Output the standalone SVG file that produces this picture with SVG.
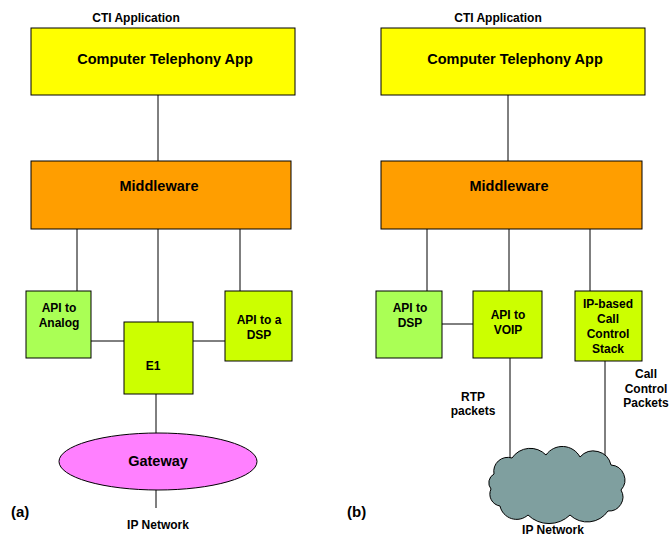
<svg xmlns="http://www.w3.org/2000/svg" width="672" height="537" viewBox="0 0 672 537">
  <style>
    text { font-family: "Liberation Sans", Arial, sans-serif; font-weight: bold; fill: #000; text-anchor: middle; }
    .big { font-size: 14.5px; }
    .sm { font-size: 12px; }
    .tag { font-size: 15px; text-anchor: start; }
    .box { stroke: #000; stroke-width: 1; }
    .app { fill: #ffff00; }
    .mid { fill: #ff9e00; }
    .grn { fill: #aaff55; }
    .lim { fill: #ccff00; }
    .conn line { stroke: #000; stroke-width: 1; }
  </style>
  <rect width="672" height="537" fill="#fff"/>

  <!-- connectors -->
  <g id="connectors" class="conn">
    <!-- panel (a) -->
    <line x1="158" y1="95" x2="158" y2="161"/>
    <line x1="77" y1="229" x2="77" y2="294"/>
    <line x1="158" y1="229" x2="158" y2="324"/>
    <line x1="240" y1="229" x2="240" y2="294"/>
    <line x1="89" y1="341" x2="124" y2="341"/>
    <line x1="189" y1="341" x2="225" y2="341"/>
    <line x1="156" y1="391" x2="156" y2="434"/>
    <line x1="156" y1="490" x2="156" y2="508"/>
    <!-- panel (b) -->
    <line x1="508" y1="95" x2="508" y2="161"/>
    <line x1="427" y1="229" x2="427" y2="294"/>
    <line x1="509" y1="229" x2="509" y2="294"/>
    <line x1="590" y1="229" x2="590" y2="294"/>
    <line x1="442" y1="324" x2="475" y2="324"/>
    <line x1="510" y1="358" x2="510" y2="463"/>
    <line x1="605" y1="358" x2="605" y2="467"/>
  </g>

  <!-- panel (a) nodes -->
  <text class="sm" x="136" y="22">CTI Application</text>
  <g id="a-app">
    <rect class="box app" x="31" y="28" width="264" height="67"/>
    <text class="big" x="165" y="64">Computer Telephony App</text>
  </g>
  <g id="a-middleware">
    <rect class="box mid" x="31" y="161" width="260" height="68"/>
    <text class="big" x="159" y="191">Middleware</text>
  </g>
  <g id="a-analog">
    <rect class="box grn" x="26" y="291" width="65" height="67"/>
    <text class="sm" x="59" y="312">API to</text>
    <text class="sm" x="59" y="327">Analog</text>
  </g>
  <g id="a-e1">
    <rect class="box lim" x="124" y="322" width="69" height="72"/>
    <text class="sm" x="153" y="370">E1</text>
  </g>
  <g id="a-dsp">
    <rect class="box lim" x="225" y="291" width="67" height="70"/>
    <text class="sm" x="259" y="324">API to a</text>
    <text class="sm" x="259" y="339">DSP</text>
  </g>
  <g id="a-gateway">
    <ellipse class="box" fill="#ff80ff" cx="158" cy="461.5" rx="99" ry="28.5"/>
    <text class="big" x="158" y="466">Gateway</text>
  </g>
  <text class="sm" x="158" y="529">IP Network</text>
  <text class="tag" x="11" y="517">(a)</text>

  <!-- panel (b) nodes -->
  <text class="sm" x="498" y="22">CTI Application</text>
  <g id="b-app">
    <rect class="box app" x="381" y="28" width="264" height="67"/>
    <text class="big" x="515" y="64">Computer Telephony App</text>
  </g>
  <g id="b-middleware">
    <rect class="box mid" x="381" y="161" width="261" height="68"/>
    <text class="big" x="509" y="191">Middleware</text>
  </g>
  <g id="b-dsp">
    <rect class="box grn" x="376" y="291" width="66" height="67"/>
    <text class="sm" x="410" y="312">API to</text>
    <text class="sm" x="410" y="327">DSP</text>
  </g>
  <g id="b-voip">
    <rect class="box lim" x="473" y="291" width="69" height="67"/>
    <text class="sm" x="508" y="319">API to</text>
    <text class="sm" x="508" y="334">VOIP</text>
  </g>
  <g id="b-callstack">
    <rect class="box lim" x="575" y="291" width="67" height="70"/>
    <text class="sm" x="608" y="308">IP-based</text>
    <text class="sm" x="608" y="323">Call</text>
    <text class="sm" x="608" y="338">Control</text>
    <text class="sm" x="608" y="353">Stack</text>
  </g>
  <g id="b-rtp-label">
    <text class="sm" x="473" y="401">RTP</text>
    <text class="sm" x="473" y="415">packets</text>
  </g>
  <g id="b-cc-label">
    <text class="sm" x="646" y="378">Call</text>
    <text class="sm" x="646" y="393">Control</text>
    <text class="sm" x="646" y="407">Packets</text>
  </g>
  <g id="b-cloud">
    <path class="box" fill="#7f9f9f" d="M 494,474
      A 14,14 0 0 1 512,458
      A 22,22 0 0 1 546,455
      A 20,20 0 0 1 580,457
      A 18,18 0 0 1 611,465
      A 15,15 0 0 1 621,490
      A 14,14 0 0 1 608,511
      A 25,25 0 0 1 570,515
      A 30,30 0 0 1 528,515
      A 17,17 0 0 1 500,506
      A 12,12 0 0 1 491,489
      A 10,10 0 0 1 494,474 Z"/>
  </g>
  <text class="sm" x="553" y="534">IP Network</text>
  <text class="tag" x="347" y="517">(b)</text>
</svg>
